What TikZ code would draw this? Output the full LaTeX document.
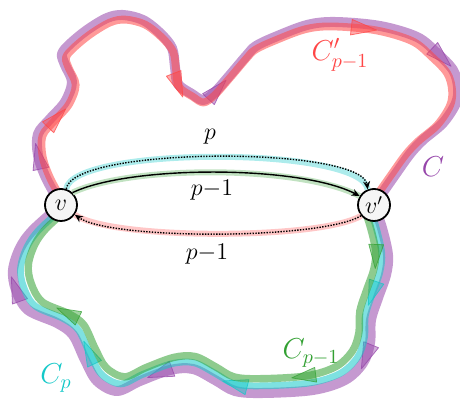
\documentclass[tikz,border=0pt]{standalone}
\usepackage{amsmath,amssymb}
\usepackage{xcolor}
\usepackage{tikz}
\usetikzlibrary{arrows.meta,decorations.markings}

\definecolor{loopC}{RGB}{150,70,170}
\definecolor{loopR}{RGB}{255,70,70}
\definecolor{loopCp}{RGB}{20,200,200}
\definecolor{loopG}{RGB}{50,160,50}

% the two halves of the cycle C, from v to v' and back
\newcommand{\upperC}{plot[smooth,tension=0.55] coordinates {(61,195) (46,222) (38,245) (38,266) (50,281) (65,298) (72,318) (65,335) (62,346) (70,356) (87,370) (107,382) (123,385) (143,380) (160,367) (172,352) (175,333) (178,316) (192,306) (203,300) (214,307) (230,325) (247,345) (256,354) (275,363) (307,375) (335,378) (380,374) (417,363) (437,347) (453,330) (458,313) (456,297) (443,277) (423,260) (410,246) (395,225) (374,195)}}
\newcommand{\lowerC}{plot[smooth,tension=0.55] coordinates {(374,195) (382,172) (388,145) (386,125) (378,102) (371,80) (370,57) (363,37) (345,20) (313,10) (263,7) (235,9) (215,20) (193,31) (170,30) (140,19) (117,9) (97,19) (85,40) (73,65) (57,77) (28,90) (16,110) (13,130) (20,152) (33,170) (61,195)}}

\begin{document}
\begin{tikzpicture}[x=0.5pt,y=0.5pt,
  every node/.style={font=\large},
  band/.style={draw=#1,draw opacity=0.55,line width=5pt,line cap=round,line join=round},
  flow/.style 2 args={postaction={decorate,decoration={markings,
    mark=at position #1 with {\fill[#2,fill opacity=0.45,draw=#2,draw opacity=0.75,line width=0.4pt] (-13,-8)--(13,0)--(-13,8)--cycle;}}}},
  vtx/.style={circle,draw,line width=0.9pt,fill=gray!8,minimum size=16pt,inner sep=0pt},
  arr/.style={-{Stealth[length=4pt,width=3.5pt]},black},
  dotline/.style={dash pattern=on 0.7pt off 0.7pt,line width=0.7pt},
  halo/.style={preaction={draw=#1,line width=3pt,solid,-}}]
\useasboundingbox (0,0) rectangle (460,400);

% upper half: C and C'_{p-1}
\draw[band=loopC,flow={0.065}{loopC},flow={0.47}{loopC},flow={0.78}{loopC}] \upperC;
\begin{scope}[transform canvas={shift={(5.5,5)},scale=0.975}]
\draw[band=loopR,line width=4pt,flow={0.12}{loopR},flow={0.41}{loopR},flow={0.68}{loopR}] \upperC;
\end{scope}

% lower half: C, C_p and C_{p-1}
\draw[band=loopC,flow={0.23}{loopC},flow={0.56}{loopC},flow={0.85}{loopC}] \lowerC;
\begin{scope}[transform canvas={shift={(8.1,7.4)},scale=0.963}]
\draw[band=loopCp,line width=3.5pt,flow={0.14}{loopCp},flow={0.44}{loopCp},flow={0.70}{loopCp}] \lowerC;
\end{scope}
\begin{scope}[transform canvas={shift={(16.3,14.8)},scale=0.926}]
\draw[band=loopG,line width=4pt,flow={0.085}{loopG},flow={0.33}{loopG},flow={0.77}{loopG}] \lowerC;
\end{scope}

\node[vtx] (v) at (61,195) {$v$};
\node[vtx] (vp) at (374,195) {$v'$};

\draw[arr,dotline,halo=loopCp!35] (v.72) .. controls (72,254) and (362,254) .. (vp.112);
\draw[arr,line width=0.7pt,halo=loopG!30] (v.47) .. controls (130,235) and (300,235) .. (vp.148);
\draw[arr,dotline,halo=loopR!30] (vp.220) .. controls (320,160) and (110,160) .. (v.325);

\node (lp) at (210,263) {$p$};
\node (lq) at (212,210) {$p{-}1$};
\node (lr) at (207,146) {$p{-}1$};
\node[text=loopR,font=\Large] (lCr) at (340,345) {$C'_{p-1}$};
\node[text=loopC,font=\Large] (lC) at (433,233) {$C$};
\node[text=loopCp,font=\Large] (lCp) at (56,22) {$C_p$};
\node[text=loopG,font=\Large] (lCg) at (311,47) {$C_{p-1}$};
\end{tikzpicture}
\end{document}
